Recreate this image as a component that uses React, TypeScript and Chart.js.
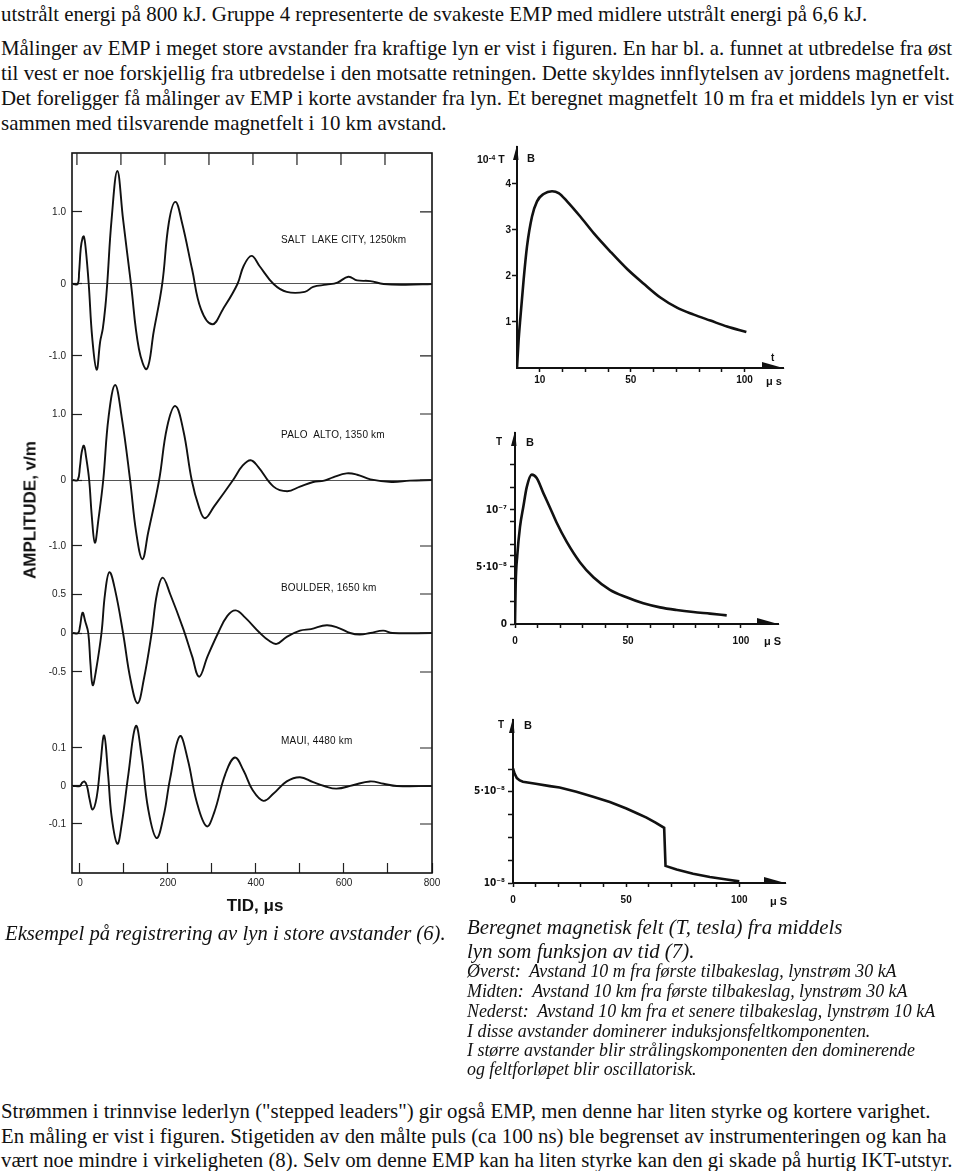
import React, { useEffect, useRef } from "react";
import { Chart, registerables } from "chart.js";

Chart.register(...registerables);

const SERIF = "'Liberation Serif', 'Times New Roman', serif";
const SANS = "'Liberation Sans', Arial, sans-serif";
const NARROW = "'Liberation Sans Narrow', 'Liberation Sans', Arial, sans-serif";
const COND = "'DejaVu Sans Condensed', 'DejaVu Sans', sans-serif";

// ---------------- text ----------------
const introLines = [
  "utstrålt energi på 800 kJ. Gruppe 4 representerte de svakeste EMP med midlere utstrålt energi på 6,6 kJ.",
  "Målinger av EMP i meget store avstander fra kraftige lyn er vist i figuren. En har bl. a. funnet at utbredelse fra øst",
  "til vest er noe forskjellig fra utbredelse i den motsatte retningen. Dette skyldes innflytelsen av jordens magnetfelt.",
  "Det foreligger få målinger av EMP i korte avstander fra lyn. Et beregnet magnetfelt 10 m fra et middels lyn er vist",
  "sammen med tilsvarende magnetfelt i 10 km avstand.",
];
const outroLines = [
  "Strømmen i trinnvise lederlyn (\"stepped leaders\") gir også EMP, men denne har liten styrke og kortere varighet.",
  "En måling er vist i figuren. Stigetiden av den målte puls (ca 100 ns) ble begrenset av instrumenteringen og kan ha",
  "vært noe mindre i virkeligheten (8). Selv om denne EMP kan ha liten styrke kan den gi skade på hurtig IKT-utstyr.",
];
const leftCaption = "Eksempel på registrering av lyn i store avstander (6).";
const rightCaption = ["Beregnet magnetisk felt (T, tesla) fra middels", "lyn som funksjon av tid (7)."];
const rightNotes = [
  "Øverst:  Avstand 10 m fra første tilbakeslag, lynstrøm 30 kA",
  "Midten:  Avstand 10 km fra første tilbakeslag, lynstrøm 30 kA",
  "Nederst:  Avstand 10 km fra et senere tilbakeslag, lynstrøm 10 kA",
  "I disse avstander dominerer induksjonsfeltkomponenten.",
  "I større avstander blir strålingskomponenten den dominerende",
  "og feltforløpet blir oscillatorisk.",
];
const stationNames = ["SALT  LAKE CITY, 1250km", "PALO  ALTO, 1350 km", "BOULDER, 1650 km", "MAUI, 4480 km"];

// ---------------- left figure data (time in µs, amplitude in V/m) ----------------
const timeTicks = [0, 100, 200, 300, 400, 500, 600, 700, 800];
const timeTickLabels = ["0", "", "200", "", "400", "", "600", "", "800"];

const sltTime = [-16, -5, -2, 2, 6, 9, 13, 20, 28, 38, 46, 52, 58, 62, 72, 85, 98, 116, 134, 152, 168, 187, 202, 217, 232, 255, 275, 301, 325, 358, 372, 390, 408, 440, 470, 511, 530, 560, 585, 610, 630, 660, 690, 740, 800];
const sltAmp = [0, 0, 0.15, 0.5, 0.64, 0.66, 0.5, 0, -0.75, -1.19, -0.8, -0.62, -0.3, 0, 0.9, 1.57, 0.9, 0, -0.9, -1.18, -0.65, 0, 0.85, 1.14, 0.85, 0.2, -0.35, -0.56, -0.35, 0, 0.25, 0.39, 0.25, 0, -0.11, -0.11, -0.04, -0.01, 0.02, 0.1, 0.05, 0.04, 0, -0.01, 0];
const sltTicks = [-1, 0, 1];
const sltTickLabels = ["-1.0", "0", "1.0"];

const paTime = [-16, -5, 0, 4, 9, 14, 21, 27, 34, 42, 53, 65, 80, 95, 114, 128, 142, 155, 180, 198, 217, 235, 254, 270, 284, 305, 348, 370, 388, 405, 440, 471, 500, 530, 555, 575, 606, 630, 660, 708, 750, 800];
const paAmp = [0, 0, 0.2, 0.42, 0.52, 0.35, 0, -0.55, -0.95, -0.6, 0, 0.95, 1.44, 0.95, 0, -0.8, -1.2, -0.8, 0, 0.8, 1.12, 0.75, 0, -0.4, -0.58, -0.4, 0, 0.22, 0.3, 0.2, -0.1, -0.17, -0.1, -0.03, -0.01, 0.04, 0.1, 0.08, 0.01, -0.03, -0.01, 0];
const paTicks = [-1, 0, 1];
const paTickLabels = ["-1.0", "0", "1.0"];

const boTime = [-16, -4, 0, 6, 12, 19, 24, 29, 36, 49, 57, 67, 80, 98, 115, 131, 145, 163, 175, 188, 205, 235, 255, 271, 290, 314, 335, 354, 375, 409, 430, 447, 470, 500, 525, 561, 590, 614, 636, 660, 689, 710, 800];
const boAmp = [0, 0, 0.08, 0.26, 0.15, 0, -0.4, -0.67, -0.5, 0, 0.5, 0.78, 0.55, 0, -0.6, -0.9, -0.6, 0, 0.5, 0.71, 0.5, 0.05, -0.3, -0.56, -0.3, 0, 0.22, 0.29, 0.2, 0, -0.1, -0.14, -0.05, 0.03, 0.05, 0.1, 0.06, 0, -0.02, 0, 0.03, 0, 0];
const boTicks = [-0.5, 0, 0.5];
const boTickLabels = ["-0.5", "0", "0.5"];

const maTime = [-16, 0, 4, 10, 16, 22, 29, 38, 46, 55, 64, 72, 85, 95, 110, 127, 140, 155, 174, 190, 205, 227, 245, 265, 288, 305, 330, 352, 372, 392, 417, 440, 470, 500, 530, 555, 583, 620, 659, 690, 720, 800];
const maAmp = [0, 0, 0.007, 0.012, 0, -0.035, -0.062, -0.03, 0.05, 0.133, 0.03, -0.08, -0.152, -0.1, 0.03, 0.158, 0.08, -0.06, -0.137, -0.08, 0.02, 0.131, 0.07, -0.04, -0.106, -0.07, 0.03, 0.075, 0.04, -0.01, -0.039, -0.02, 0.012, 0.023, 0.01, 0, -0.007, 0.002, 0.012, 0.006, 0, 0];
const maTicks = [-0.1, 0, 0.1];
const maTickLabels = ["-0.1", "0", "0.1"];

// ---------------- right figures data ----------------
// top: B in 10^-4 T
const topTime = [0, 0.7, 1.5, 2.9, 4.4, 6.6, 8.8, 11.7, 15.4, 18.3, 22, 27.8, 33.7, 41, 48.4, 55.7, 63, 70.3, 77.7, 85, 92.3, 100.8];
const topB = [0, 0.6, 1.1, 1.91, 2.64, 3.29, 3.62, 3.78, 3.84, 3.8, 3.62, 3.29, 2.93, 2.53, 2.15, 1.83, 1.53, 1.31, 1.16, 1.03, 0.9, 0.78];
const topYTicks = [1, 2, 3, 4];
const topYLabels = ["1", "2", "3", "4"];
const topXTicks = [10, 20, 30, 40, 50, 60, 70, 80, 90, 100];
const topXLabels = ["10", "", "", "", "50", "", "", "", "", "100"];

// middle: B in 10^-8 T
const midTime = [0, 0.3, 1, 2.2, 3.7, 5.2, 7.4, 9.6, 12.5, 15.5, 18.4, 22.9, 28.8, 34.7, 42, 49.4, 56.8, 64.2, 71.5, 78.9, 86.3, 93.7];
const midB = [0, 3.5, 6.0, 8.5, 10.3, 12.0, 13.1, 12.8, 11.5, 10.2, 8.9, 7.2, 5.4, 4.1, 3.0, 2.34, 1.81, 1.46, 1.23, 1.05, 0.91, 0.76];
const midYTicks = [0, 2, 4, 5, 6, 7, 9, 10, 12, 14];
const midYLabels = ["0", "", "", "5·10⁻⁸", "", "", "", "10⁻⁷", "", ""];
const stdXTicks = [0, 10, 20, 30, 40, 50, 60, 70, 80, 90, 100];
const stdXLabels = ["0", "", "", "", "", "50", "", "", "", "", "100"];

// bottom: B in 10^-8 T
const lowTime = [0, 0.7, 1.7, 3, 4.4, 10, 16.3, 20.6, 28, 35.4, 42.8, 50.1, 55, 59, 63, 66.8, 67.4, 72.3, 79.6, 87, 94.4, 100];
const lowB = [6.03, 5.8, 5.6, 5.5, 5.44, 5.35, 5.25, 5.19, 5.0, 4.78, 4.55, 4.27, 4.05, 3.87, 3.65, 3.42, 1.75, 1.59, 1.41, 1.26, 1.15, 1.07];
const lowYTicks = [1, 2, 3, 4, 5, 6];
const lowYLabels = ["10⁻⁸", "", "", "", "5·10⁻⁸", ""];

// ---------------- chart helpers ----------------
function waveAxis(min: number, max: number, ticks: number[]) {
  return {
    type: "linear",
    position: "left",
    min,
    max,
    afterBuildTicks: (s: any) => {
      s.ticks = ticks.map((value) => ({ value }));
    },
    afterFit: (s: any) => {
      s.width = 0;
    },
    border: { display: false },
    grid: {
      drawOnChartArea: true,
      drawTicks: true,
      tickLength: -10,
      tickColor: "#222",
      tickWidth: 1.2,
      lineWidth: 1,
      color: (c: any) => (c.tick && c.tick.value === 0 ? "#555" : "rgba(0,0,0,0)"),
    },
    ticks: { display: false },
  };
}

const waveLabelSets: Record<string, string[]> = {
  ySlc: sltTickLabels,
  yPa: paTickLabels,
  yBo: boTickLabels,
  yMa: maTickLabels,
};

const leftFramePlugin = {
  id: "leftFrame",
  afterDraw(chart: any) {
    const { ctx, chartArea: a, scales } = chart;
    ctx.save();
    ctx.strokeStyle = "#111";
    ctx.lineWidth = 1.6;
    ctx.strokeRect(a.left, a.top, a.right - a.left, a.bottom - a.top);
    ctx.lineWidth = 1.2;
    ctx.strokeStyle = "#222";
    ctx.beginPath();
    const x = scales.x;
    x.ticks.forEach((t: any) => {
      if (t.value >= 800) return;
      const px = x.getPixelForValue(t.value) - 3;
      ctx.moveTo(px, a.top);
      ctx.lineTo(px, a.top + 12);
    });
    Object.keys(waveLabelSets).forEach((id) => {
      const s = scales[id];
      s.ticks.forEach((t: any) => {
        const py = s.getPixelForValue(t.value);
        ctx.moveTo(a.right, py);
        ctx.lineTo(a.right - 12, py);
      });
    });
    ctx.stroke();
    // y tick labels of the four stacked records
    ctx.fillStyle = "#222";
    ctx.font = `10px ${NARROW}`;
    ctx.textAlign = "right";
    ctx.textBaseline = "middle";
    Object.keys(waveLabelSets).forEach((id) => {
      const s = scales[id];
      const labels = waveLabelSets[id];
      s.ticks.forEach((t: any, i: number) => {
        ctx.fillText(labels[i], a.left - 6, s.getPixelForValue(t.value));
      });
    });
    ctx.restore();
  },
};

const arrowPlugin = {
  id: "axisArrows",
  afterDraw(chart: any) {
    const { ctx, chartArea: a } = chart;
    ctx.save();
    ctx.fillStyle = "#111";
    ctx.beginPath();
    ctx.moveTo(a.left, a.top - 2);
    ctx.lineTo(a.left - 4, a.top + 13);
    ctx.lineTo(a.left + 1.5, a.top + 13);
    ctx.closePath();
    ctx.fill();
    ctx.beginPath();
    ctx.moveTo(a.right + 2, a.bottom + 0.5);
    ctx.lineTo(a.right - 21, a.bottom - 6);
    ctx.lineTo(a.right - 21, a.bottom + 1);
    ctx.closePath();
    ctx.fill();
    ctx.restore();
  },
};

function LeftFigure() {
  const ref = useRef<HTMLCanvasElement>(null);
  useEffect(() => {
    const series = [
      { t: sltTime, v: sltAmp, id: "ySlc" },
      { t: paTime, v: paAmp, id: "yPa" },
      { t: boTime, v: boAmp, id: "yBo" },
      { t: maTime, v: maAmp, id: "yMa" },
    ];
    const chart = new Chart(ref.current as HTMLCanvasElement, {
      type: "line",
      data: {
        datasets: series.map((s) => ({
          data: s.t.map((x, i) => ({ x, y: s.v[i] })),
          yAxisID: s.id,
          borderColor: "#111",
          borderWidth: 1.9,
          pointRadius: 0,
          tension: 0.4,
          fill: false,
        })),
      } as any,
      options: {
        responsive: false,
        animation: false,
        events: [],
        layout: { padding: { left: 72, right: 38, top: 13, bottom: 0 } },
        plugins: { legend: { display: false }, tooltip: { enabled: false } },
        scales: {
          x: {
            type: "linear",
            min: -18,
            max: 800,
            afterBuildTicks: (s: any) => {
              s.ticks = timeTicks.map((value) => ({ value }));
            },
            afterFit: (s: any) => {
              s.height = 57;
            },
            border: { display: false },
            grid: { drawOnChartArea: false, drawTicks: true, tickLength: -10, tickColor: "#222", tickWidth: 1.2 },
            ticks: {
              padding: 14,
              autoSkip: false,
              maxRotation: 0,
              callback: (_v: any, i: number) => timeTickLabels[i],
              font: { family: NARROW, size: 10 },
              color: "#222",
            },
          },
          ySlc: waveAxis(-8.181, 1.819, sltTicks),
          yPa: waveAxis(-5.955, 4.955, paTicks),
          yBo: waveAxis(-3.077, 6.154, boTicks),
          yMa: waveAxis(-0.229, 1.666, maTicks),
        } as any,
      },
      plugins: [leftFramePlugin],
    });
    return () => chart.destroy();
  }, []);
  return <canvas ref={ref} width={470} height={790} style={{ position: "absolute", left: 0, top: 140 }} />;
}

type RightProps = {
  left: number;
  top: number;
  width: number;
  height: number;
  time: number[];
  values: number[];
  xMax: number;
  yMin: number;
  yMax: number;
  xTicks: number[];
  xLabels: string[];
  yTicks: number[];
  yLabels: string[];
  padding: { left: number; right: number; top: number; bottom: number };
  xPad: number;
  yPad: number;
  tension: number;
  monotone: boolean;
  yFont: string;
};

function RightChart(p: RightProps) {
  const ref = useRef<HTMLCanvasElement>(null);
  useEffect(() => {
    const chart = new Chart(ref.current as HTMLCanvasElement, {
      type: "line",
      data: {
        datasets: [
          {
            data: p.time.map((x, i) => ({ x, y: p.values[i] })),
            borderColor: "#111",
            borderWidth: 2.6,
            pointRadius: 0,
            tension: p.tension,
            cubicInterpolationMode: p.monotone ? "monotone" : "default",
            fill: false,
          },
        ],
      } as any,
      options: {
        responsive: false,
        animation: false,
        events: [],
        layout: { padding: { left: 0, right: p.padding.right, top: p.padding.top, bottom: 0 } },
        plugins: { legend: { display: false }, tooltip: { enabled: false } },
        scales: {
          x: {
            type: "linear",
            min: 0,
            max: p.xMax,
            afterBuildTicks: (s: any) => {
              s.ticks = p.xTicks.map((value) => ({ value }));
            },
            afterFit: (s: any) => {
              s.height = p.padding.bottom;
            },
            border: { display: true, color: "#111", width: 2 },
            grid: { drawOnChartArea: false, drawTicks: true, tickLength: 4, tickColor: "#111", tickWidth: 1.5 },
            ticks: {
              padding: p.xPad,
              autoSkip: false,
              maxRotation: 0,
              callback: (_v: any, i: number) => p.xLabels[i],
              font: { family: SANS, size: 10, weight: "bold" },
              color: "#111",
            },
          },
          y: {
            type: "linear",
            min: p.yMin,
            max: p.yMax,
            afterBuildTicks: (s: any) => {
              s.ticks = p.yTicks.map((value) => ({ value }));
            },
            afterFit: (s: any) => {
              s.width = p.padding.left;
            },
            border: { display: true, color: "#111", width: 2 },
            grid: { drawOnChartArea: false, drawTicks: true, tickLength: 5, tickColor: "#111", tickWidth: 1.5 },
            ticks: {
              padding: p.yPad,
              autoSkip: false,
              callback: (_v: any, i: number) => p.yLabels[i],
              font: { family: p.yFont, size: 10, weight: "bold" },
              color: "#111",
            },
          },
        } as any,
      },
      plugins: [arrowPlugin],
    });
    return () => chart.destroy();
  }, []);
  return (
    <canvas
      ref={ref}
      width={p.width}
      height={p.height}
      style={{ position: "absolute", left: p.left, top: p.top }}
    />
  );
}

function Txt(props: { x: number; cy: number; size: number; family?: string; italic?: boolean; bold?: boolean; children: any; extra?: any }) {
  const { x, cy, size, family, italic, bold, children, extra } = props;
  return (
    <div
      style={{
        position: "absolute",
        left: x,
        top: cy - size / 2,
        fontSize: size,
        lineHeight: 1,
        fontFamily: family || SERIF,
        fontStyle: italic ? "italic" : "normal",
        fontWeight: bold ? "bold" : "normal",
        whiteSpace: "pre",
        color: "#111",
        ...(extra || {}),
      }}
    >
      {children}
    </div>
  );
}

const supStyle = { fontSize: "0.7em", verticalAlign: "0.45em" };

export default function App() {
  const introY = [14, 48, 73, 98, 123];
  const outroY = [1111, 1136, 1160];
  const notesY = [972, 992, 1012, 1032, 1051, 1070];
  const stationY = [240, 435, 588, 741];
  return (
    <div
      style={{
        position: "absolute",
        left: 0,
        top: 0,
        width: 960,
        height: 1171,
        background: "#fff",
        overflow: "hidden",
      }}
    >
      {introLines.map((l, i) => (
        <Txt key={"i" + i} x={1} cy={introY[i]} size={20.9}>
          {l}
        </Txt>
      ))}

      <LeftFigure />
      {stationNames.map((n, i) => (
        <Txt key={"s" + i} x={281} cy={stationY[i]} size={10} family={SANS} extra={{ letterSpacing: "0.2px" }}>
          {n}
        </Txt>
      ))}
      <div
        style={{
          position: "absolute",
          left: 30,
          top: 510,
          transform: "translate(-50%, -50%) rotate(-90deg)",
          fontFamily: SANS,
          fontWeight: "bold",
          fontSize: 17,
          lineHeight: 1,
          whiteSpace: "pre",
          color: "#111",
        }}
      >
        AMPLITUDE, v/m
      </div>
      <div
        style={{
          position: "absolute",
          left: 255,
          top: 905,
          transform: "translate(-50%, -50%)",
          fontFamily: SANS,
          fontWeight: "bold",
          fontSize: 17,
          lineHeight: 1,
          whiteSpace: "pre",
          color: "#111",
        }}
      >
        TID, μs
      </div>

      <RightChart
        left={460}
        top={140}
        width={340}
        height={260}
        time={topTime}
        values={topB}
        xMax={116.9}
        yMin={0}
        yMax={4.8}
        xTicks={topXTicks}
        xLabels={topXLabels}
        yTicks={topYTicks}
        yLabels={topYLabels}
        padding={{ left: 57, right: 17, top: 7, bottom: 32 }}
        xPad={2}
        yPad={1}
        tension={0.4}
        monotone={true}
        yFont={SANS}
      />
      <Txt x={477} cy={159} size={10.5} family={SANS} bold>
        10<span style={supStyle}>-4</span> T
      </Txt>
      <Txt x={527} cy={158} size={11} family={SANS} bold>
        B
      </Txt>
      <Txt x={771} cy={358} size={10} family={SANS} bold>
        t
      </Txt>
      <Txt x={766} cy={381} size={11} family={SANS} bold>
        μ s
      </Txt>

      <RightChart
        left={460}
        top={420}
        width={340}
        height={240}
        time={midTime}
        values={midB}
        xMax={116.4}
        yMin={0}
        yMax={16.75}
        xTicks={stdXTicks}
        xLabels={stdXLabels}
        yTicks={midYTicks}
        yLabels={midYLabels}
        padding={{ left: 55, right: 22, top: 13, bottom: 36 }}
        xPad={7}
        yPad={3}
        tension={0.4}
        monotone={true}
        yFont={COND}
      />
      <Txt x={496} cy={442} size={10} family={SANS} bold>
        T
      </Txt>
      <Txt x={526} cy={442} size={11} family={SANS} bold>
        B
      </Txt>
      <Txt x={764} cy={641} size={11} family={SANS} bold>
        μ S
      </Txt>

      <RightChart
        left={460}
        top={700}
        width={340}
        height={215}
        time={lowTime}
        values={lowB}
        xMax={120.2}
        yMin={1}
        yMax={8.15}
        xTicks={stdXTicks}
        xLabels={stdXLabels}
        yTicks={lowYTicks}
        yLabels={lowYLabels}
        padding={{ left: 53, right: 15, top: 20, bottom: 32 }}
        xPad={7}
        yPad={3}
        tension={0}
        monotone={false}
        yFont={COND}
      />
      <Txt x={498} cy={725} size={10} family={SANS} bold>
        T
      </Txt>
      <Txt x={524} cy={725} size={11} family={SANS} bold>
        B
      </Txt>
      <Txt x={770} cy={901} size={11} family={SANS} bold>
        μ S
      </Txt>

      <Txt x={5} cy={933} size={20.7} italic>
        {leftCaption}
      </Txt>
      {rightCaption.map((l, i) => (
        <Txt key={"c" + i} x={467} cy={[927, 951][i]} size={20.9} italic>
          {l}
        </Txt>
      ))}
      {rightNotes.map((l, i) => (
        <Txt key={"n" + i} x={467} cy={notesY[i]} size={17.9} italic>
          {l}
        </Txt>
      ))}
      {outroLines.map((l, i) => (
        <Txt key={"o" + i} x={1} cy={outroY[i]} size={20.8}>
          {l}
        </Txt>
      ))}
    </div>
  );
}
